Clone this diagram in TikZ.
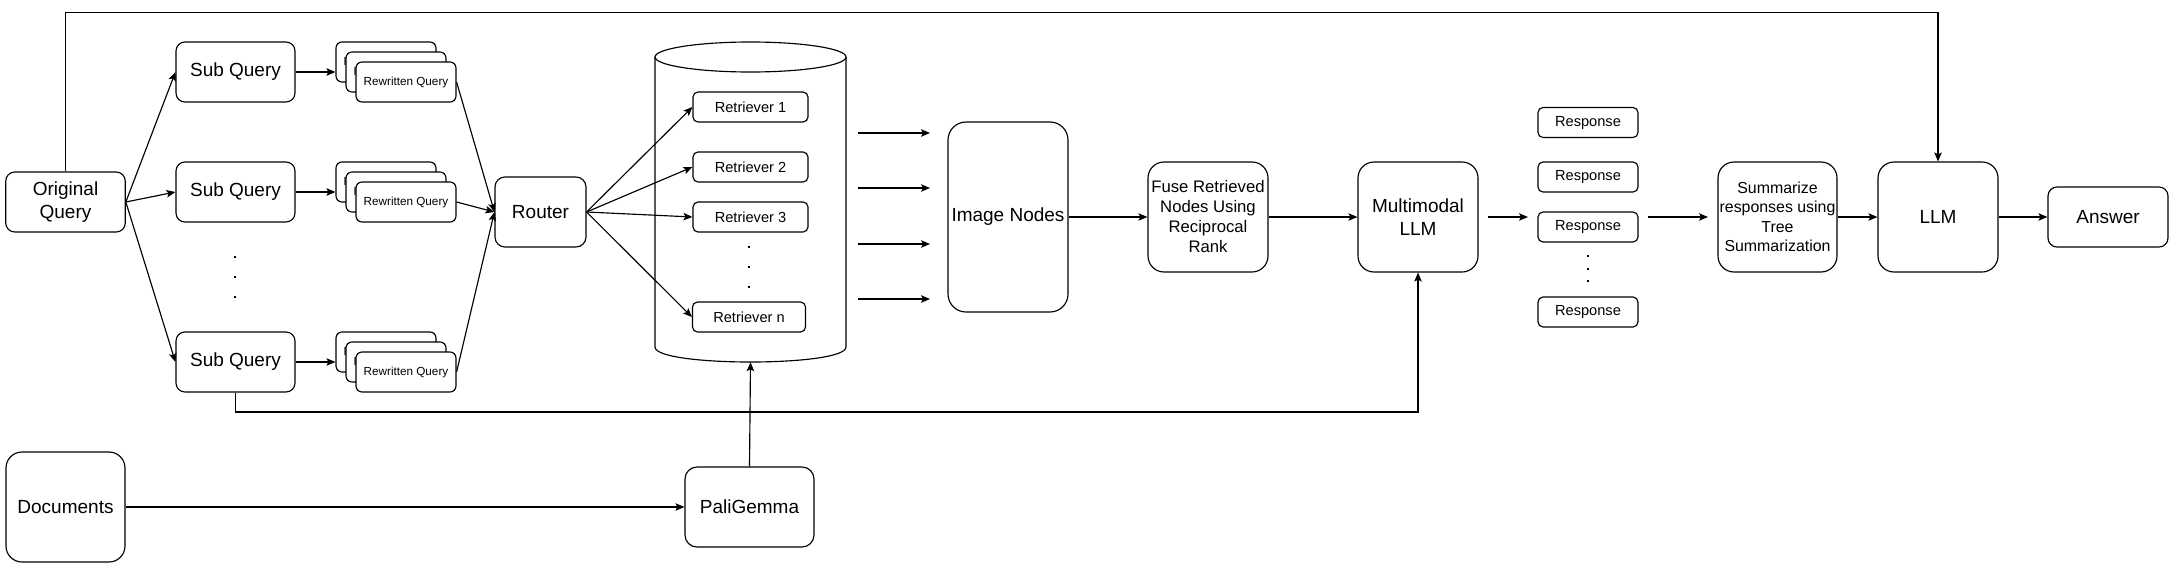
\documentclass[tikz,border=0pt]{standalone}
\usepackage{fontspec}
\setmainfont{Liberation Sans}
\usetikzlibrary{arrows.meta,calc}
\newcommand\fmain{\fontsize{19}{22.5}\selectfont}
\newcommand\fret{\fontsize{14.6}{17}\selectfont}
\newcommand\frw{\fontsize{11.7}{14}\selectfont}
\newcommand\ffuse{\fontsize{16.7}{20}\selectfont}
\newcommand\fsumm{\fontsize{15.9}{19.4}\selectfont}
\begin{document}
\begin{tikzpicture}[x=1pt,y=-1pt,
  lw/.style={line width=1.15pt},
  box/.style={draw, lw, fill=white, align=center, inner sep=0pt},
  bigbox/.style={box, rounded corners=9pt, font=\fmain},
  tallbox/.style={box, rounded corners=16pt},
  smallbox/.style={box, rounded corners=5pt, minimum width=100pt, minimum height=30pt},
  rwbox/.style={box, rounded corners=6pt, minimum width=100pt, minimum height=40pt, font=\frw},
  arr/.style={lw, -{Stealth[length=9pt,width=7.5pt,inset=2pt]}},
  dot/.style={fill=black, minimum size=2.8pt, inner sep=0pt, rectangle}
]
\fill[white] (0,0) rectangle (2174,568);

% Original query and sub queries
\node[bigbox, minimum width=119.5pt, minimum height=60pt] (oq) at (65.5,202) {Original\\Query};
\node[bigbox, minimum width=119pt, minimum height=60pt] (sq1) at (235.5,72) {Sub Query};
\node[bigbox, minimum width=119pt, minimum height=60pt] (sq2) at (235.5,192) {Sub Query};
\node[bigbox, minimum width=119pt, minimum height=60pt] (sq3) at (235.5,362) {Sub Query};
\node[dot] (sqd1) at (235,257) {};
\node[dot] (sqd2) at (235,277) {};
\node[dot] (sqd3) at (235,297) {};

% Rewritten query stacks
\node[rwbox] (rb1) at (386,62) {Rewritten Query};
\node[rwbox] (rm1) at (396,72) {Rewritten Query};
\node[rwbox] (rf1) at (406,82) {Rewritten Query};
\node[rwbox] (rb2) at (386,182) {Rewritten Query};
\node[rwbox] (rm2) at (396,192) {Rewritten Query};
\node[rwbox] (rf2) at (406,202) {Rewritten Query};
\node[rwbox] (rb3) at (386,352) {Rewritten Query};
\node[rwbox] (rm3) at (396,362) {Rewritten Query};
\node[rwbox] (rf3) at (406,372) {Rewritten Query};

% Router
\node[bigbox, rounded corners=10pt, minimum width=91pt, minimum height=70pt] (router) at (540.5,212) {Router};

% Cylinder
\node[minimum width=191pt, minimum height=320pt, inner sep=0pt] (db) at (750.5,202) {};
\draw[lw, fill=white] (655,57) -- (655,347) .. controls (655,367) and (846,367) .. (846,347) -- (846,57);
\draw[lw] (750.5,57) ellipse [x radius=95.5pt, y radius=15pt];

% Retrievers
\node[smallbox, minimum width=115pt, font=\fret] (r1) at (750.5,107) {Retriever 1};
\node[smallbox, minimum width=115pt, font=\fret] (r2) at (750.5,167) {Retriever 2};
\node[smallbox, minimum width=115pt, font=\fret] (r3) at (750.5,217) {Retriever 3};
\node[smallbox, minimum width=113pt, font=\fret] (rn) at (749,317) {Retriever n};
\node[dot] (rd1) at (749,247) {};
\node[dot] (rd2) at (749,267) {};
\node[dot] (rd3) at (749,287) {};

% Image nodes, fuse, multimodal
\node[bigbox, rounded corners=18pt, minimum width=120pt, minimum height=190pt] (img) at (1008,217) {Image Nodes};
\node[tallbox, font=\ffuse, minimum width=120pt, minimum height=110pt] (fuse) at (1208,217) {Fuse Retrieved\\Nodes Using\\Reciprocal\\Rank};
\node[tallbox, font=\fmain, minimum width=120pt, minimum height=110pt] (mm) at (1418,217) {Multimodal\\LLM};

% Responses
\node[smallbox, font=\fret] (re1) at (1588,122.5) {Response};
\node[smallbox, font=\fret] (re2) at (1588,177) {Response};
\node[smallbox, font=\fret] (re3) at (1588,227) {Response};
\node[smallbox, font=\fret] (re4) at (1588,312) {Response};
\node[dot] (red1) at (1588,256) {};
\node[dot] (red2) at (1588,269) {};
\node[dot] (red3) at (1588,281) {};

% Summarize, LLM, Answer
\node[tallbox, font=\fsumm, minimum width=119pt, minimum height=110pt] (summ) at (1777.5,217) {Summarize\\responses using\\Tree\\Summarization};
\node[tallbox, font=\fmain, minimum width=120pt, minimum height=110pt] (llm) at (1938,217) {LLM};
\node[bigbox, minimum width=120pt, minimum height=60pt] (ans) at (2108,217) {Answer};

% Documents, PaliGemma
\node[tallbox, font=\fmain, minimum width=119pt, minimum height=110pt] (doc) at (65.5,507) {Documents};
\node[box, rounded corners=12pt, font=\fmain, minimum width=129pt, minimum height=80pt] (pg) at (749.5,507) {PaliGemma};

% Coordinates
\coordinate (topy) at (0,12.5);
\coordinate (boty) at (0,412);
\coordinate (fa1s) at (858,133); \coordinate (fa1e) at (930,133);
\coordinate (fa2s) at (858,188); \coordinate (fa2e) at (930,188);
\coordinate (fa3s) at (858,244); \coordinate (fa3e) at (930,244);
\coordinate (fa4s) at (858,299); \coordinate (fa4e) at (930,299);
\coordinate (fbs) at (1488,217); \coordinate (fbe) at (1528,217);
\coordinate (fcs) at (1648,217); \coordinate (fce) at (1708,217);

% Connectors
\draw[arr] (oq.east) -- (sq1.west);
\draw[arr] (oq.east) -- (sq2.west);
\draw[arr] (oq.east) -- (sq3.west);
\draw[arr] (sq1.east) -- (sq1.east -| rb1.west);
\draw[arr] (sq2.east) -- (sq2.east -| rb2.west);
\draw[arr] (sq3.east) -- (sq3.east -| rb3.west);
\draw[arr] (rf1.east) -- (router.west);
\draw[arr] (rf2.east) -- (router.west);
\draw[arr] (rf3.east) -- (router.west);
\draw[arr] (router.east) -- (r1.west);
\draw[arr] (router.east) -- (r2.west);
\draw[arr] (router.east) -- (r3.west);
\draw[arr] (router.east) -- (rn.west);
\draw[arr] (fa1s) -- (fa1e);
\draw[arr] (fa2s) -- (fa2e);
\draw[arr] (fa3s) -- (fa3e);
\draw[arr] (fa4s) -- (fa4e);
\draw[arr] (img.east) -- (fuse.west);
\draw[arr] (fuse.east) -- (mm.west);
\draw[arr] (fbs) -- (fbe);
\draw[arr] (fcs) -- (fce);
\draw[arr] (summ.east) -- (llm.west);
\draw[arr] (llm.east) -- (ans.west);
\draw[arr] (oq.north) -- (oq.north |- topy) -| (llm.north);
\draw[arr] (sq3.south) -- (sq3.south |- boty) -| (mm.south);
\draw[arr] (doc.east) -- (pg.west);
\draw[arr] (pg.north) -- (db.south);
\end{tikzpicture}
\end{document}
